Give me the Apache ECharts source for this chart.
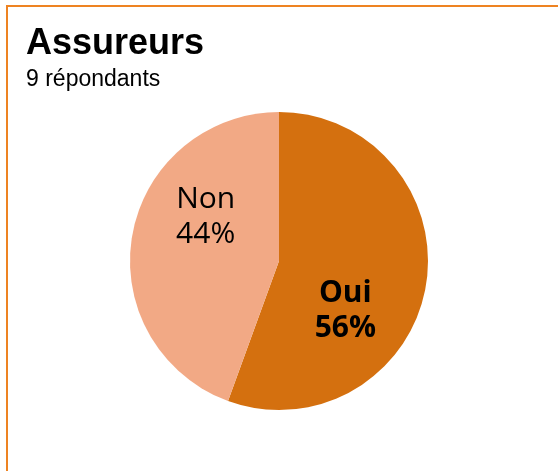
<!DOCTYPE html>
<html><head><meta charset="utf-8">
<script src="https://cdn.jsdelivr.net/npm/echarts@6/dist/echarts.min.js"></script>
<style>html,body{margin:0;padding:0;background:#fff}#c{width:558px;height:471px}</style>
</head><body><div id="c"></div>
<script>
var categories = ['Oui', 'Non'];
var values = [5, 4];
var colors = ['#D4700F', '#F2A985'];
var titleText = 'Assureurs';
var subtitleText = '9 répondants';

var chart = echarts.init(document.getElementById('c'), null, {renderer: 'canvas'});
var total = values.reduce(function(a, b){ return a + b; }, 0);
chart.setOption({
  animation: false,
  backgroundColor: '#fff',
  title: {
    text: titleText,
    subtext: subtitleText,
    left: 26, top: 26, padding: 0, itemGap: 6,
    textStyle: {fontFamily: 'Liberation Sans, Arial', fontWeight: 'bold', fontSize: 36, color: '#000'},
    subtextStyle: {fontFamily: 'Liberation Sans, Arial', fontSize: 23, color: '#000'}
  },
  graphic: [{
    type: 'rect', silent: true, z: -1,
    shape: {x: 7, y: 6, width: 700, height: 700},
    style: {fill: 'none', stroke: '#EE8322', lineWidth: 2}
  }],
  series: [{
    type: 'pie',
    center: [279, 261],
    radius: [0, 149],
    startAngle: 90,
    clockwise: true,
    itemStyle: {borderWidth: 0},
    label: {
      position: 'inside',
      fontFamily: 'Open Sans',
      fontSize: 30,
      lineHeight: 35,
      color: '#000',
      formatter: function(p){ return p.name + '\n' + Math.round(p.value / total * 100) + '%'; }
    },
    labelLayout: function(p){
      return p.dataIndex === 0 ? {dx: -10, dy: 36} : {dx: 3, dy: -31};
    },
    data: categories.map(function(c, i){
      return {
        name: c, value: values[i],
        itemStyle: {color: colors[i]},
        label: {fontWeight: i === 0 ? 'bold' : 'normal'}
      };
    })
  }]
});
</script></body></html>
